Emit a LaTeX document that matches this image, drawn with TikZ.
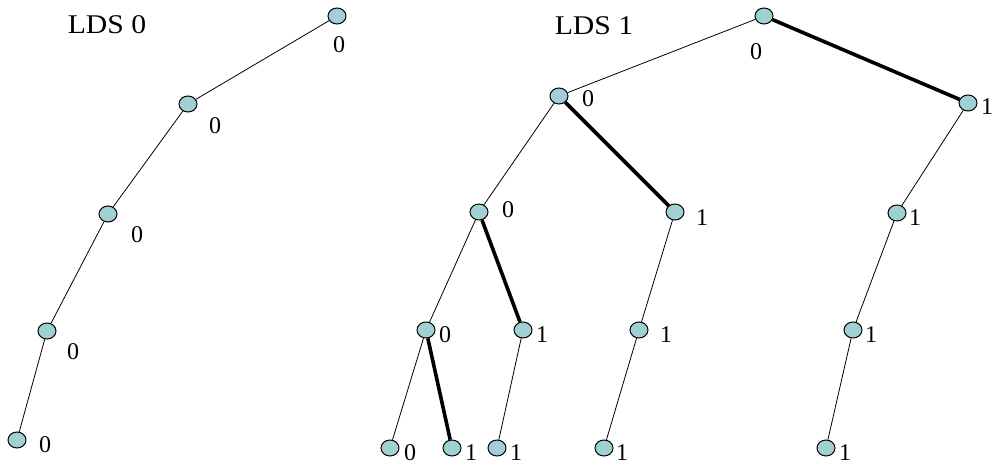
\documentclass[tikz,border=0pt]{standalone}
\usepackage{fontspec}
\setmainfont{Liberation Serif}
\usepackage{tikz}
\usetikzlibrary{shapes.geometric}
\definecolor{nodeteal}{RGB}{160,208,212}
\newcommand{\ttl}[1]{\scalebox{1.1}[1]{#1}}

\begin{document}
\begin{tikzpicture}[x=1pt,y=-1pt,
    vtx/.style={ellipse,draw,line width=1pt,fill=nodeteal,minimum width=18pt,minimum height=16pt,inner sep=0pt},
    txt/.style={inner sep=0pt,font=\fontsize{24}{28}\selectfont},
    head/.style={inner sep=0pt,font=\fontsize{27}{32}\selectfont},
    thin edge/.style={line width=0.8pt},
    thick edge/.style={line width=3.6pt}]
\useasboundingbox (0,0) rectangle (993,465);

% LDS 0
\begin{scope}
    \node[head] (T0) at (107, 25) {\ttl{LDS 0}};
    \node[vtx] (P) at (337, 16) {};
    \node[vtx] (P0) at (188, 104) {};
    \node[vtx] (P00) at (108, 214) {};
    \node[vtx] (P000) at (47, 331) {};
    \node[vtx] (P0000) at (17, 440) {};

    \node[txt] (Pt) at (339, 45) {0};
    \node[txt] (P0t) at (215, 126) {0};
    \node[txt] (P00t) at (137, 235) {0};
    \node[txt] (P000t) at (73, 352) {0};
    \node[txt] (P0000t) at (45, 445) {0};

    \draw[thin edge] (P) -- (P0) -- (P00) -- (P000) -- (P0000);
\end{scope}

% LDS 1
\begin{scope}
    \node[head] (T1) at (594, 26) {\ttl{LDS 1}};
    \node[vtx] (R) at (764, 16) {};
    \node[vtx] (A) at (559, 96) {};
    \node[vtx] (B) at (968, 103) {};
    \node[vtx] (A0) at (479, 212) {};
    \node[vtx] (A1) at (675, 212) {};
    \node[vtx] (B1) at (897, 213) {};
    \node[vtx] (A00) at (426, 330) {};
    \node[vtx] (A01) at (523, 330) {};
    \node[vtx] (A11) at (639, 330) {};
    \node[vtx] (B11) at (853, 330) {};
    \node[vtx] (A000) at (390, 448) {};
    \node[vtx] (A001) at (452, 448) {};
    \node[vtx] (A011) at (497, 448) {};
    \node[vtx] (A111) at (604, 448) {};
    \node[vtx] (B111) at (826, 448) {};

    \node[txt] (Rt) at (756, 52) {0};
    \node[txt] (At) at (588, 99) {0};
    \node[txt] (Bt) at (987, 107) {1};
    \node[txt] (A0t) at (508, 210) {0};
    \node[txt] (A1t) at (702, 218) {1};
    \node[txt] (B1t) at (915, 218) {1};
    \node[txt] (A00t) at (445, 335) {0};
    \node[txt] (A01t) at (542, 335) {1};
    \node[txt] (A11t) at (666, 335) {1};
    \node[txt] (B11t) at (871, 335) {1};
    \node[txt] (A000t) at (410, 453) {0};
    \node[txt] (A001t) at (471, 453) {1};
    \node[txt] (A011t) at (516, 453) {1};
    \node[txt] (A111t) at (622, 453) {1};
    \node[txt] (B111t) at (845, 453) {1};

    \draw[thin edge] (R) -- (A) -- (A0) -- (A00) -- (A000);
    \draw[thin edge] (A0) -- (A01) -- (A011);
    \draw[thin edge] (A1) -- (A11) -- (A111);
    \draw[thin edge] (B) -- (B1) -- (B11) -- (B111);

    \draw[thick edge] (R) -- (B);
    \draw[thick edge] (A) -- (A1);
    \draw[thick edge] (A0) -- (A01);
    \draw[thick edge] (A00) -- (A001);
\end{scope}
\end{tikzpicture}
\end{document}
